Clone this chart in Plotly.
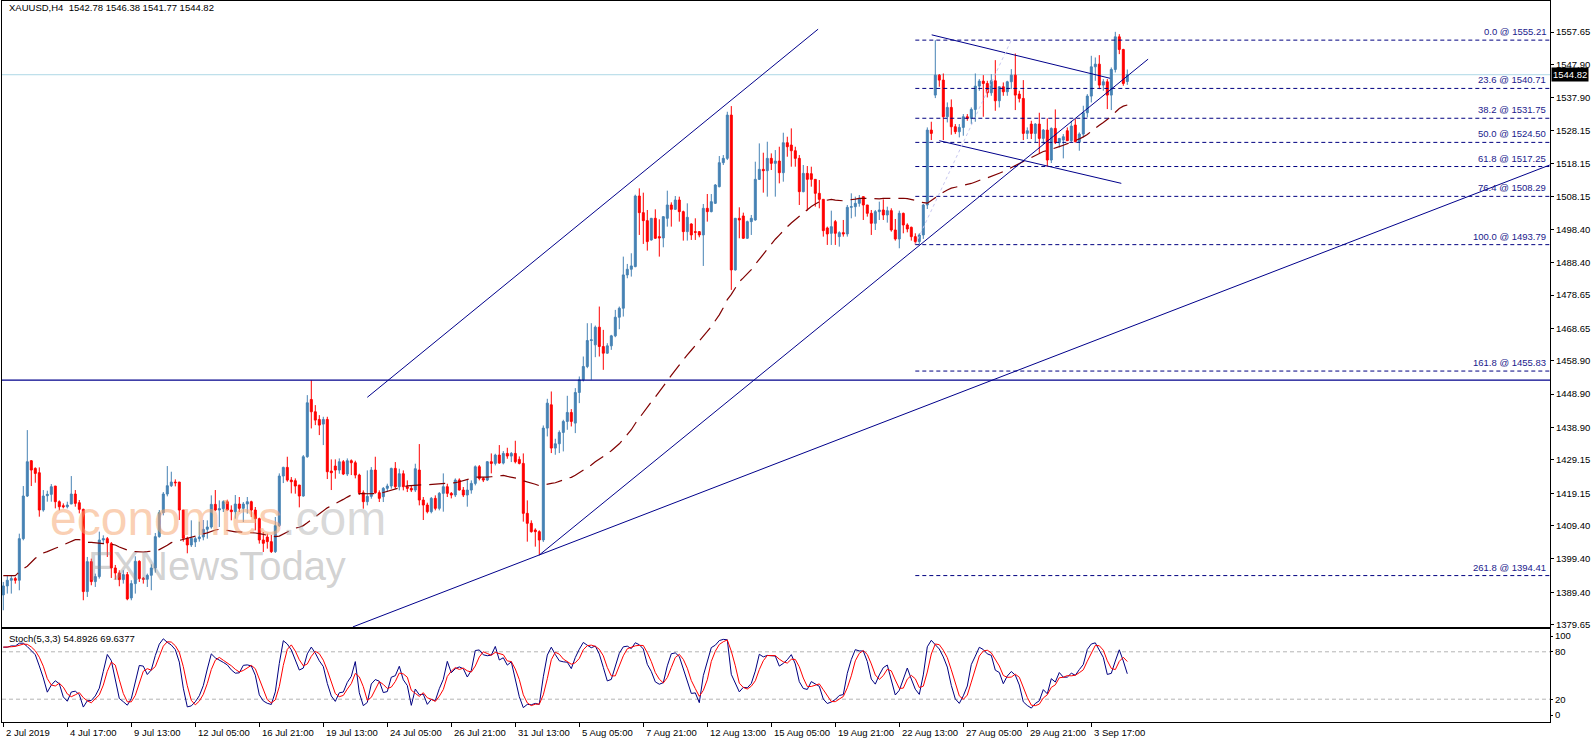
import pandas as pd
import plotly.graph_objects as go

# XAUUSD H4 bars, 2 Jul 2019 .. 5 Sep 2019 (index 0 = first bar on the chart)
bar_open = [
    1388.6, 1391.3, 1393.0, 1393.5, 1393.0, 1405.5, 1418.3, 1428.9, 1426.6, 1425.3,
    1414.1, 1418.4, 1418.8, 1421.3, 1416.6, 1415.4, 1415.1, 1415.9, 1418.9, 1416.3,
    1414.3, 1389.6, 1398.6, 1392.6, 1394.1, 1405.1, 1405.5, 1404.0, 1396.7, 1395.2,
    1393.2, 1394.7, 1387.7, 1392.0, 1398.7, 1393.6, 1393.3, 1394.5, 1396.7, 1406.1,
    1413.3, 1418.9, 1421.4, 1422.5, 1422.5, 1414.1, 1405.6, 1403.6, 1404.5, 1405.5,
    1406.0, 1408.3, 1409.0, 1415.8, 1414.1, 1414.5, 1416.6, 1414.1, 1413.6, 1415.9,
    1414.6, 1415.9, 1416.6, 1414.1, 1411.5, 1405.1, 1406.0, 1404.6, 1401.6, 1409.4,
    1424.3, 1426.9, 1423.1, 1422.9, 1421.6, 1418.3, 1430.1, 1447.3, 1443.6, 1441.3,
    1439.9, 1441.3, 1425.8, 1427.3, 1426.1, 1428.6, 1424.9, 1428.9, 1428.3, 1424.6,
    1419.3, 1416.6, 1418.2, 1426.1, 1419.3, 1418.1, 1420.6, 1421.3, 1426.6, 1421.1,
    1425.0, 1421.1, 1420.6, 1420.1, 1426.1, 1417.1, 1415.6, 1413.6, 1417.6, 1414.6,
    1419.1, 1421.1, 1419.1, 1418.6, 1423.1, 1420.1, 1418.6, 1420.1, 1422.1, 1427.1,
    1423.6, 1423.1, 1428.6, 1428.1, 1430.6, 1428.2, 1431.1, 1430.3, 1431.1, 1429.3,
    1428.1, 1413.1, 1410.1, 1408.1, 1407.6, 1405.1, 1438.7, 1445.7, 1432.7, 1434.0,
    1437.4, 1440.7, 1443.4, 1440.2, 1449.4, 1453.2, 1457.2, 1465.0, 1463.7, 1469.0,
    1463.2, 1461.2, 1463.4, 1466.4, 1472.0, 1474.7, 1484.7, 1486.4, 1487.2, 1508.4,
    1503.4, 1501.0, 1495.2, 1501.7, 1496.2, 1495.8, 1501.7, 1505.7, 1504.4, 1507.2,
    1503.7, 1497.7, 1500.0, 1497.7, 1497.7, 1496.7, 1504.7, 1503.7, 1506.2, 1511.2,
    1518.4, 1519.7, 1532.7, 1486.2, 1501.7, 1502.4, 1495.7, 1500.7, 1501.2, 1513.4,
    1516.4, 1516.0, 1519.7, 1518.2, 1518.9, 1515.4, 1524.4, 1523.7, 1522.0, 1519.7,
    1509.7, 1515.2, 1515.1, 1513.4, 1509.2, 1507.4, 1498.8, 1497.2, 1500.7, 1496.2,
    1497.4, 1497.0, 1505.0, 1505.2, 1506.2, 1508.2, 1505.7, 1503.2, 1500.2, 1503.7,
    1504.2, 1502.7, 1504.0, 1498.2, 1495.5, 1503.2, 1499.7, 1499.0, 1496.2, 1494.7,
    1496.7, 1505.7, 1528.2, 1538.7, 1544.7, 1543.2, 1532.2, 1535.0, 1529.2, 1527.7,
    1529.0, 1532.2, 1531.7, 1534.4, 1541.4, 1542.9, 1542.2, 1539.4, 1543.0, 1537.0,
    1541.2, 1539.7, 1542.7, 1544.7, 1539.0, 1537.7, 1527.2, 1530.0, 1527.2, 1530.0,
    1525.7, 1528.2, 1519.2, 1528.7, 1524.4, 1525.2, 1528.0, 1525.0, 1529.7, 1524.7,
    1527.0, 1533.4, 1538.4, 1547.2, 1548.0, 1541.7, 1542.7, 1538.7, 1546.4, 1556.2,
    1552.4, 1542.78,
]
bar_high = [
    1392.5, 1394.5, 1394.5, 1394.0, 1407.0, 1421.3, 1438.1, 1429.1, 1426.9, 1426.9,
    1420.1, 1419.9, 1421.9, 1421.3, 1417.0, 1416.1, 1416.6, 1424.3, 1420.1, 1417.1,
    1414.5, 1400.0, 1399.5, 1395.0, 1407.6, 1406.5, 1406.0, 1404.5, 1397.6, 1396.0,
    1396.0, 1395.5, 1393.0, 1400.2, 1399.0, 1394.0, 1395.0, 1397.8, 1407.2, 1414.1,
    1419.5, 1427.3, 1425.6, 1423.3, 1422.5, 1414.1, 1406.1, 1411.0, 1406.0, 1410.6,
    1411.1, 1411.0, 1418.5, 1420.1, 1417.0, 1417.0, 1417.2, 1415.5, 1418.6, 1418.0,
    1416.5, 1418.0, 1416.9, 1415.0, 1411.8, 1407.5, 1407.0, 1406.6, 1412.0, 1425.1,
    1427.1, 1430.1, 1424.0, 1423.6, 1421.6, 1430.6, 1448.6, 1453.1, 1445.6, 1442.6,
    1442.1, 1442.1, 1429.3, 1429.3, 1429.6, 1429.1, 1429.6, 1429.3, 1428.9, 1425.0,
    1420.0, 1426.0, 1427.0, 1430.1, 1420.0, 1421.0, 1422.0, 1426.8, 1428.5, 1426.5,
    1426.0, 1423.0, 1421.5, 1428.0, 1433.9, 1418.0, 1416.3, 1418.0, 1418.5, 1419.5,
    1425.1, 1422.0, 1419.5, 1423.6, 1423.6, 1421.0, 1423.1, 1423.0, 1427.5, 1427.6,
    1424.0, 1428.8, 1431.1, 1431.0, 1433.6, 1431.8, 1432.8, 1431.5, 1434.9, 1430.2,
    1431.1, 1417.0, 1411.0, 1408.6, 1408.0, 1439.5, 1447.5, 1449.7, 1435.5, 1438.0,
    1441.2, 1448.4, 1444.4, 1450.7, 1454.2, 1460.2, 1470.2, 1470.2, 1469.5, 1475.2,
    1468.2, 1464.2, 1466.7, 1474.2, 1475.2, 1490.2, 1488.0, 1491.2, 1508.8, 1510.7,
    1509.4, 1504.2, 1501.8, 1504.4, 1501.4, 1502.3, 1510.0, 1506.5, 1508.4, 1508.2,
    1504.0, 1506.2, 1500.2, 1501.7, 1497.8, 1506.0, 1509.0, 1509.0, 1512.0, 1520.4,
    1520.7, 1533.7, 1535.4, 1501.8, 1505.0, 1503.4, 1501.0, 1502.7, 1518.7, 1524.2,
    1521.4, 1524.7, 1521.2, 1522.2, 1523.2, 1527.4, 1526.2, 1528.7, 1523.2, 1520.7,
    1517.7, 1517.4, 1517.2, 1513.4, 1513.2, 1507.4, 1499.2, 1504.0, 1501.2, 1497.8,
    1501.2, 1505.7, 1509.2, 1508.2, 1508.7, 1508.2, 1505.7, 1504.2, 1504.2, 1506.7,
    1507.4, 1505.2, 1504.7, 1501.5, 1504.0, 1503.4, 1500.2, 1499.2, 1497.2, 1497.2,
    1506.0, 1529.0, 1530.7, 1555.2, 1545.0, 1545.2, 1536.5, 1537.4, 1530.0, 1530.0,
    1533.0, 1533.0, 1535.0, 1545.2, 1543.5, 1544.7, 1543.0, 1545.0, 1549.2, 1541.0,
    1542.5, 1543.0, 1546.5, 1551.2, 1540.0, 1543.2, 1529.0, 1531.0, 1530.3, 1533.4,
    1528.5, 1531.7, 1529.0, 1534.4, 1525.5, 1527.0, 1529.0, 1531.0, 1531.5, 1527.5,
    1535.5, 1539.0, 1550.5, 1550.0, 1550.7, 1543.5, 1543.5, 1547.0, 1557.7, 1557.0,
    1552.6, 1546.38,
]
bar_low = [
    1384.0, 1389.0, 1389.0, 1392.0, 1390.0, 1405.0, 1418.0, 1421.3, 1422.3, 1412.1,
    1413.6, 1416.6, 1416.6, 1414.6, 1414.0, 1414.6, 1414.6, 1415.9, 1415.1, 1413.1,
    1387.0, 1388.0, 1391.5, 1391.0, 1393.5, 1404.0, 1400.0, 1393.7, 1393.2, 1391.2,
    1392.0, 1387.0, 1387.0, 1389.0, 1392.5, 1392.0, 1391.0, 1390.0, 1395.3, 1405.8,
    1412.5, 1418.2, 1421.0, 1421.2, 1411.1, 1404.6, 1401.1, 1403.0, 1403.0, 1404.6,
    1405.0, 1405.5, 1408.5, 1413.8, 1409.0, 1413.5, 1414.0, 1411.0, 1411.5, 1413.5,
    1410.5, 1413.0, 1412.0, 1408.0, 1404.0, 1401.5, 1402.5, 1401.2, 1401.2, 1409.0,
    1422.2, 1422.6, 1419.1, 1419.0, 1414.9, 1418.1, 1429.8, 1438.6, 1439.6, 1436.6,
    1433.6, 1423.4, 1420.1, 1423.5, 1425.0, 1424.6, 1424.3, 1424.6, 1423.6, 1418.6,
    1414.5, 1415.5, 1417.5, 1419.0, 1416.5, 1416.5, 1419.5, 1420.5, 1420.5, 1420.0,
    1420.0, 1419.5, 1419.5, 1419.5, 1415.5, 1411.1, 1413.1, 1413.1, 1414.0, 1414.0,
    1413.6, 1418.0, 1417.6, 1418.0, 1420.0, 1418.0, 1415.1, 1419.0, 1421.5, 1423.0,
    1422.5, 1422.8, 1425.1, 1427.5, 1428.0, 1427.8, 1429.5, 1428.5, 1428.1, 1427.8,
    1410.6, 1404.6, 1407.3, 1403.1, 1400.6, 1404.5, 1436.2, 1431.2, 1430.7, 1431.2,
    1431.7, 1438.2, 1439.2, 1437.2, 1446.2, 1452.7, 1456.7, 1453.2, 1460.0, 1460.2,
    1456.2, 1461.0, 1462.2, 1466.0, 1468.4, 1472.2, 1483.7, 1484.2, 1487.0, 1496.7,
    1494.0, 1492.0, 1495.0, 1495.5, 1490.2, 1493.0, 1499.2, 1499.2, 1504.2, 1500.7,
    1495.0, 1495.0, 1495.2, 1495.2, 1496.0, 1487.4, 1500.7, 1503.5, 1506.0, 1511.0,
    1517.7, 1519.2, 1480.2, 1486.0, 1495.7, 1495.5, 1495.5, 1496.7, 1501.0, 1513.2,
    1509.4, 1508.2, 1516.2, 1508.2, 1512.2, 1512.7, 1520.2, 1517.2, 1517.2, 1505.7,
    1509.5, 1504.0, 1511.2, 1505.2, 1504.7, 1496.2, 1493.7, 1493.7, 1493.7, 1493.2,
    1496.2, 1496.2, 1501.7, 1502.2, 1505.2, 1501.2, 1502.2, 1496.7, 1498.2, 1501.2,
    1501.2, 1500.4, 1497.7, 1495.0, 1492.7, 1497.2, 1497.5, 1495.0, 1493.8, 1493.8,
    1495.5, 1504.5, 1525.2, 1537.8, 1541.2, 1525.2, 1530.5, 1526.8, 1527.0, 1526.0,
    1526.5, 1531.0, 1530.0, 1530.7, 1540.0, 1532.2, 1538.0, 1538.5, 1534.0, 1535.0,
    1538.5, 1538.5, 1540.5, 1534.2, 1536.5, 1525.2, 1525.5, 1525.5, 1524.5, 1521.2,
    1524.0, 1517.2, 1518.3, 1524.0, 1523.0, 1519.7, 1525.0, 1524.5, 1524.5, 1522.0,
    1526.0, 1532.0, 1536.5, 1543.0, 1540.5, 1540.0, 1534.5, 1534.2, 1545.5, 1551.0,
    1541.5, 1541.77,
]
bar_close = [
    1391.3, 1393.0, 1393.5, 1393.0, 1405.5, 1418.3, 1428.6, 1426.1, 1425.1, 1414.1,
    1418.3, 1418.8, 1421.1, 1416.6, 1415.1, 1415.1, 1415.6, 1418.9, 1416.1, 1414.3,
    1389.6, 1398.6, 1392.6, 1394.1, 1405.1, 1405.5, 1404.2, 1396.7, 1395.2, 1393.2,
    1394.7, 1387.4, 1392.0, 1398.7, 1393.5, 1393.3, 1394.5, 1396.7, 1406.1, 1413.3,
    1418.9, 1421.4, 1422.5, 1422.3, 1414.1, 1405.6, 1403.6, 1405.6, 1405.5, 1406.0,
    1408.3, 1409.0, 1415.8, 1414.1, 1414.5, 1416.6, 1414.1, 1413.6, 1415.9, 1414.6,
    1415.9, 1416.6, 1414.1, 1411.5, 1405.1, 1404.1, 1404.6, 1401.6, 1409.4, 1424.3,
    1426.9, 1423.1, 1422.6, 1421.3, 1418.3, 1430.1, 1446.3, 1443.6, 1441.1, 1439.6,
    1441.3, 1425.6, 1425.3, 1426.1, 1428.6, 1424.9, 1428.9, 1428.3, 1424.6, 1419.3,
    1416.6, 1418.2, 1426.1, 1419.3, 1417.6, 1420.6, 1421.3, 1426.6, 1421.1, 1425.0,
    1421.1, 1420.6, 1420.1, 1426.5, 1417.1, 1415.6, 1413.6, 1417.6, 1414.6, 1419.1,
    1421.1, 1419.1, 1418.6, 1423.1, 1420.1, 1418.6, 1420.1, 1422.1, 1427.1, 1423.6,
    1423.1, 1428.6, 1428.1, 1430.6, 1428.2, 1431.1, 1430.3, 1431.1, 1428.6, 1428.1,
    1413.1, 1410.1, 1407.6, 1407.6, 1405.1, 1438.7, 1446.2, 1432.7, 1434.0, 1437.4,
    1440.7, 1443.4, 1440.7, 1449.4, 1453.2, 1457.2, 1465.0, 1465.2, 1469.0, 1463.2,
    1461.2, 1463.4, 1466.4, 1472.0, 1474.7, 1484.7, 1486.4, 1487.4, 1508.4, 1503.4,
    1501.0, 1494.7, 1501.7, 1495.7, 1495.8, 1502.2, 1505.7, 1504.4, 1507.2, 1503.7,
    1497.7, 1502.0, 1496.7, 1497.5, 1496.7, 1504.7, 1503.7, 1506.7, 1511.7, 1518.4,
    1519.7, 1532.7, 1486.2, 1501.7, 1501.2, 1495.7, 1500.7, 1501.7, 1513.4, 1516.4,
    1516.0, 1519.7, 1518.2, 1518.9, 1515.4, 1524.4, 1523.2, 1522.0, 1519.7, 1509.7,
    1515.2, 1513.4, 1513.4, 1509.2, 1507.4, 1498.0, 1497.0, 1499.2, 1497.2, 1497.4,
    1497.0, 1505.0, 1505.2, 1506.2, 1507.7, 1505.7, 1503.2, 1500.2, 1503.7, 1504.2,
    1502.7, 1504.0, 1498.2, 1495.5, 1503.2, 1499.7, 1498.5, 1496.2, 1494.7, 1496.7,
    1505.7, 1528.2, 1527.2, 1544.7, 1543.2, 1532.2, 1535.0, 1529.2, 1527.7, 1529.0,
    1532.2, 1531.7, 1534.4, 1541.4, 1542.9, 1542.2, 1539.4, 1543.0, 1537.0, 1541.2,
    1539.7, 1542.7, 1544.7, 1538.7, 1537.7, 1527.2, 1528.0, 1527.2, 1530.0, 1525.7,
    1528.2, 1519.2, 1528.7, 1524.4, 1525.7, 1526.2, 1525.0, 1529.4, 1524.7, 1527.0,
    1533.4, 1538.4, 1547.2, 1548.0, 1541.7, 1542.7, 1538.7, 1546.4, 1556.2, 1552.4,
    1542.2, 1544.82,
]

# moving average as it shows on the first bars (no history before bar 0 here)
ma_head = [
    1394.4, 1394.4, 1394.4, 1394.4, 1395.5, 1396.5, 1397.2, 1398.5, 1399.6, 1400.5,
    1401.2, 1401.6, 1402.0, 1402.6, 1403.1, 1403.6, 1404.1, 1404.7, 1405.2, 1405.2,
    1404.9, 1404.4, 1404.4, 1404.2, 1404.1, 1404.0, 1404.0, 1403.8, 1403.6, 1403.0,
    1402.5, 1401.9, 1401.6, 1401.6, 1401.5, 1401.5, 1401.6, 1401.7, 1401.9, 1402.2,
    1402.8, 1403.5, 1404.3, 1404.6, 1405.0, 1405.3, 1405.6, 1405.9, 1406.2,
]

tick_bars = [0, 16, 32, 48, 64, 80, 96, 112, 128, 144, 160, 176, 192, 208, 224, 240, 256, 272]
tick_text = ["2 Jul 2019", "4 Jul 17:00", "9 Jul 13:00", "12 Jul 05:00", "16 Jul 21:00",
             "19 Jul 13:00", "24 Jul 05:00", "26 Jul 21:00", "31 Jul 13:00", "5 Aug 05:00",
             "7 Aug 21:00", "12 Aug 13:00", "15 Aug 05:00", "19 Aug 21:00", "22 Aug 13:00",
             "27 Aug 05:00", "29 Aug 21:00", "3 Sep 17:00"]
price_ticks = [1557.65, 1547.90, 1537.90, 1528.15, 1518.15, 1508.15, 1498.40, 1488.40,
               1478.65, 1468.65, 1458.90, 1448.90, 1438.90, 1429.15, 1419.15, 1409.40,
               1399.40, 1389.40, 1379.65]
stoch_ticks = [100, 80, 20, 0]

fib_ratio = ["0.0", "23.6", "38.2", "50.0", "61.8", "76.4", "100.0", "161.8", "261.8"]
fib_price = [1555.21, 1540.71, 1531.75, 1524.50, 1517.25, 1508.29, 1493.79, 1455.83, 1394.41]
fib_start_bar = 228
fib_anchor_low = (228, 1493.79)
fib_anchor_high = (252, 1555.21)

last_price = 1544.82
resistance = 1453.1
# hand-drawn trend lines: (bar, price) end points
trend_lines = [
    [(91.0, 1447.95), (203.7, 1558.5)],
    [(87.4, 1379.0), (386.6, 1517.7)],
    [(134.0, 1400.6), (286.2, 1549.5)],
    [(232.1, 1556.8), (276.7, 1543.75)],
    [(234.0, 1525.0), (279.5, 1512.2)],
]

n = len(bar_close)
assert len(bar_open) == len(bar_high) == len(bar_low) == n
idx = list(range(n))

df = pd.DataFrame({"o": bar_open, "h": bar_high, "l": bar_low, "c": bar_close})
ma = df["c"].rolling(50).mean()
ma.iloc[:len(ma_head)] = ma_head
ll = df["l"].rolling(5, min_periods=1).min()
hh = df["h"].rolling(5, min_periods=1).max()
stoch_main = 100 * (df["c"] - ll).rolling(3, min_periods=1).sum() / (hh - ll).rolling(3, min_periods=1).sum()
stoch_signal = stoch_main.rolling(3, min_periods=1).mean()

# pixel geometry of the MT4 window
W, H = 1596, 743
L_M, R_M, T_M, B_M = 2, 46, 1, 21
PW, PH = W - L_M - R_M, H - T_M - B_M
X_RANGE = [-0.325, 386.675]


def px(x):
    return (x - L_M) / PW


def py(y):
    return (H - B_M - y) / PH


FONT = "Liberation Sans, Arial, sans-serif"
NAVY = "#00008B"

fig = go.Figure()
fig.add_trace(go.Candlestick(
    x=idx, open=bar_open, high=bar_high, low=bar_low, close=bar_close,
    increasing=dict(line=dict(color="#4682B4", width=1), fillcolor="#4682B4"),
    decreasing=dict(line=dict(color="#FF0000", width=1), fillcolor="#FF0000"),
    whiskerwidth=0, xaxis="x", yaxis="y", showlegend=False))
fig.add_trace(go.Scatter(x=idx, y=ma, mode="lines", xaxis="x", yaxis="y",
                         line=dict(color="#800000", width=1.2, dash="16px,8px"), showlegend=False))
fig.add_trace(go.Scatter(x=idx, y=stoch_main, mode="lines", xaxis="x2", yaxis="y2",
                         line=dict(color="#000080", width=1), showlegend=False))
fig.add_trace(go.Scatter(x=idx, y=stoch_signal, mode="lines", xaxis="x2", yaxis="y2",
                         line=dict(color="#FF0000", width=1), showlegend=False))

shapes = []
shapes.append(dict(type="line", xref="paper", yref="y", x0=0, x1=1, y0=last_price, y1=last_price,
                   line=dict(color="#ADD8E6", width=1), layer="below"))
shapes.append(dict(type="line", xref="paper", yref="y", x0=0, x1=1, y0=resistance, y1=resistance,
                   line=dict(color=NAVY, width=1.3)))
for (x0, y0), (x1, y1) in trend_lines:
    shapes.append(dict(type="line", xref="x", yref="y", x0=x0, y0=y0, x1=x1, y1=y1,
                       line=dict(color=NAVY, width=1)))
shapes.append(dict(type="line", xref="x", yref="y", x0=fib_anchor_low[0], y0=fib_anchor_low[1],
                   x1=fib_anchor_high[0], y1=fib_anchor_high[1],
                   line=dict(color="#C8C8F0", width=1, dash="dot")))
for lvl in fib_price:
    shapes.append(dict(type="line", xref="x", yref="y", x0=fib_start_bar, x1=X_RANGE[1], y0=lvl, y1=lvl,
                       line=dict(color="#000080", width=1, dash="4px,3px")))
for lvl in (20, 80):
    shapes.append(dict(type="line", xref="x2", yref="y2", x0=X_RANGE[0], x1=X_RANGE[1], y0=lvl, y1=lvl,
                       line=dict(color="#B4B4B4", width=1, dash="4px,3px"), layer="below"))

ann = []
ann.append(dict(xref="paper", yref="paper", x=px(7), y=py(8), xanchor="left", yanchor="middle",
                text="XAUUSD,H4\u00a0\u00a01542.78 1546.38 1541.77 1544.82", showarrow=False,
                font=dict(family=FONT, size=9.5, color="black")))
ann.append(dict(xref="paper", yref="paper", x=px(7), y=py(638), xanchor="left", yanchor="middle",
                text="Stoch(5,3,3) 54.8926 69.6377", showarrow=False,
                font=dict(family=FONT, size=9.5, color="black")))
for r, p in zip(fib_ratio, fib_price):
    ann.append(dict(xref="paper", yref="y", x=px(1548), y=p, xanchor="right", yanchor="bottom",
                    yshift=1, text=f"{r} @ {p:.2f}", showarrow=False,
                    font=dict(family=FONT, size=9.5, color="#1a1a8c")))
for b, t in zip(tick_bars, tick_text):
    ann.append(dict(xref="x2", yref="paper", x=b, y=py(732), xanchor="left", yanchor="middle",
                    xshift=1, text=t, showarrow=False, font=dict(family=FONT, size=9.5, color="black")))
ann.append(dict(xref="paper", yref="y", x=1, y=last_price, xanchor="left", yanchor="middle", xshift=1,
                text=f"{last_price:.2f}", showarrow=False, bgcolor="black", borderpad=1,
                font=dict(family=FONT, size=9.5, color="white")))
# watermarks
ann.append(dict(xref="paper", yref="paper", x=px(48), y=py(518), xanchor="left", yanchor="middle",
                text="<span style='color:rgba(247,168,115,0.55)'>economies</span>"
                     "<span style='color:rgba(170,170,170,0.45)'>.com</span>",
                showarrow=False, font=dict(family=FONT, size=48)))
ann.append(dict(xref="paper", yref="paper", x=px(86), y=py(566), xanchor="left", yanchor="middle",
                text="FXNewsToday", showarrow=False,
                font=dict(family=FONT, size=40, color="rgba(140,140,140,0.4)")))

axis_common = dict(showline=True, mirror=True, linecolor="black", linewidth=1,
                   showgrid=False, zeroline=False)
fig.update_layout(
    width=W, height=H, margin=dict(l=L_M, r=R_M, t=T_M, b=B_M, autoexpand=False),
    paper_bgcolor="white", plot_bgcolor="white", showlegend=False,
    xaxis=dict(domain=[0, 1], range=X_RANGE, anchor="y", showticklabels=False, ticks="",
               rangeslider=dict(visible=False), **axis_common),
    yaxis=dict(domain=[py(627), 1], range=[1378.97, 1566.96], side="right", anchor="x",
               tickvals=price_ticks, ticktext=[f"{v:.2f}" for v in price_ticks],
               ticks="outside", ticklen=3, tickcolor="black",
               tickfont=dict(family=FONT, size=9.5, color="black"), **axis_common),
    xaxis2=dict(domain=[0, 1], range=X_RANGE, anchor="y2", matches="x", showticklabels=False,
                tickvals=tick_bars, ticks="outside", ticklen=4, tickcolor="black", **axis_common),
    yaxis2=dict(domain=[0, py(629)], range=[-8.86, 108.86], side="right", anchor="x2",
                tickvals=stoch_ticks, ticktext=[str(v) for v in stoch_ticks],
                ticks="outside", ticklen=2, tickcolor="black",
                tickfont=dict(family=FONT, size=9.5, color="black"), **axis_common),
    shapes=shapes, annotations=ann,
)

# the page body margin would shift the 1596x743 chart and add scrollbars
fig.write_html("out.html", config={"displayModeBar": False},
               post_script="document.body.style.margin='0';document.body.style.overflow='hidden';")
